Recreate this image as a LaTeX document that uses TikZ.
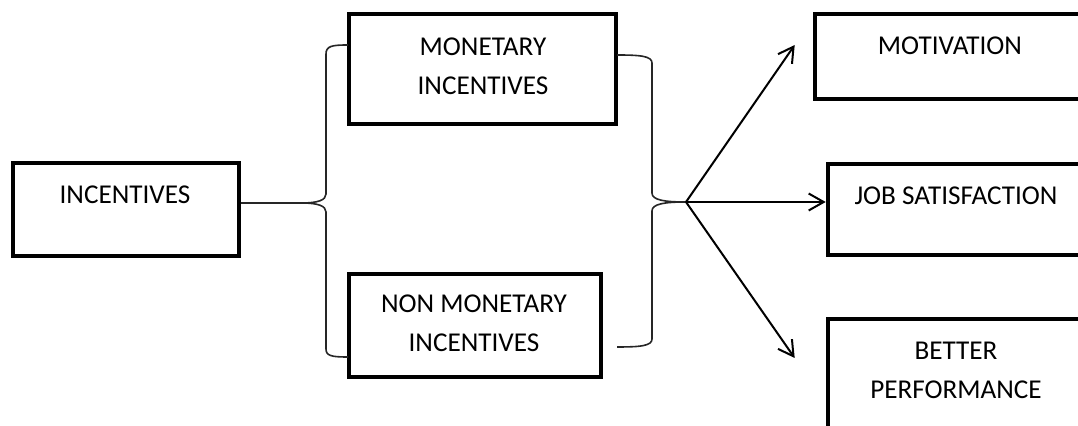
\documentclass[tikz,border=0pt]{standalone}
\usepackage{fontspec}
\setmainfont{Carlito}
\usepackage{tikz}
\usetikzlibrary{positioning,arrows.meta}

\begin{document}
\begin{tikzpicture}[x=0.5pt,y=-0.5pt]
\tikzstyle{box}=[rectangle, draw=black, line width=2.3pt, inner sep=0pt]
\tikzstyle{txt}=[align=center, font=\fontsize{13.6}{19.5}\selectfont, inner sep=0pt]
\tikzstyle{brace}=[line width=0.8pt, draw=black!85]
\tikzstyle{connect}=[-{Straight Barb[length=7.5pt,width=8.5pt]}, line width=1pt]
\clip (0,0) rectangle (1078,426);
	% boxes
	\node[box, minimum width=113pt, minimum height=46.5pt] (inc) at (126,209.5) {};
	\node[box, minimum width=133.5pt, minimum height=55pt] (mon) at (482.5,69) {};
	\node[box, minimum width=126pt, minimum height=51.5pt] (non) at (475,325.5) {};
	\node[box, minimum width=142.5pt, minimum height=42.5pt] (mot) at (957.5,56.5) {};
	\node[box, minimum width=136pt, minimum height=45.5pt] (job) at (964,209.5) {};
	\node[box, minimum width=136pt, minimum height=60.5pt] (bet) at (964,379.5) {};
	% texts
	\node[txt] (inc_t) at (125,195) {INCENTIVES};
	\node[txt] (mon_t) at (483,66) {MONETARY\\INCENTIVES};
	\node[txt] (non_t) at (474,323) {NON MONETARY\\INCENTIVES};
	\node[txt] (mot_t) at (950,46) {MOTIVATION};
	\node[txt] (job_t) at (956,196) {JOB SATISFACTION};
	\node[txt] (bet_t) at (956,370) {BETTER\\PERFORMANCE};
	% brace points
	\coordinate (ltop) at (348,45);
	\coordinate (lbot) at (348,357);
	\coordinate (ltip) at (302,203);
	\coordinate (rtop) at (617,55);
	\coordinate (rbot) at (617,347);
	\coordinate (rtip) at (686,202);

	\draw[brace] (inc.east |- ltip) -- (ltip);
	\draw[brace] (ltop) .. controls (332,45) and (326,46) .. (326,54) -- (326,194)
		.. controls (326,200) and (318,203) .. (ltip)
		.. controls (318,203) and (326,206) .. (326,212) -- (326,349)
		.. controls (326,356) and (332,357) .. (lbot);
	\draw[brace] (rtop) .. controls (640,55) and (652,56) .. (652,63) -- (652,193)
		.. controls (652,200) and (664,202) .. (rtip)
		.. controls (664,202) and (652,204) .. (652,211) -- (652,339)
		.. controls (652,346) and (640,347) .. (rbot);

	\path
		(rtip) edge [connect] ([xshift=-9pt,yshift=5.75pt]mot.west)
		(rtip) edge [connect] (rtip -| job.west)
		(rtip) edge [connect] ([xshift=-15.5pt,yshift=10.75pt]bet.west);
\end{tikzpicture}
\end{document}
